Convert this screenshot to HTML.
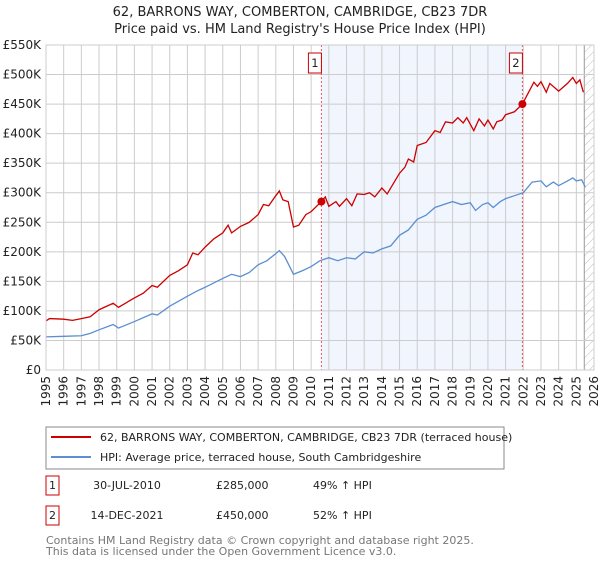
<!DOCTYPE html>
<html><head><meta charset="utf-8"><style>
body{margin:0;background:#fff;font-family:"DejaVu Sans","Liberation Sans",sans-serif;}
svg text{font-family:"DejaVu Sans","Liberation Sans",sans-serif;}
</style></head><body>
<svg id="c" width="600" height="560" xmlns="http://www.w3.org/2000/svg">
<defs><pattern id="hatch" width="6" height="6" patternUnits="userSpaceOnUse" patternTransform="rotate(45)"><line x1="0" y1="0" x2="0" y2="6" stroke="#bbb" stroke-width="1"/></pattern></defs>
<text x="300" y="16" text-anchor="middle" font-size="13" fill="#222">62, BARRONS WAY, COMBERTON, CAMBRIDGE, CB23 7DR</text>
<text x="300" y="33" text-anchor="middle" font-size="13" fill="#222">Price paid vs. HM Land Registry's House Price Index (HPI)</text>
<g id="plot"></g>
<g>
<rect x="46" y="427" width="458" height="42" fill="#fff" stroke="#888"/>
<line x1="51" y1="437" x2="91" y2="437" stroke="#cc0000" stroke-width="2"/>
<text x="100" y="441" font-size="11" fill="#222">62, BARRONS WAY, COMBERTON, CAMBRIDGE, CB23 7DR (terraced house)</text>
<line x1="51" y1="457" x2="91" y2="457" stroke="#5b8fd1" stroke-width="2"/>
<text x="100" y="461" font-size="11" fill="#222">HPI: Average price, terraced house, South Cambridgeshire</text>
</g>
<g font-size="11" fill="#222">
<rect x="46" y="476" width="13" height="19" fill="#fff" stroke="#cc0000"/>
<text x="52.5" y="489" text-anchor="middle" fill="#222">1</text>
<text x="127" y="489" text-anchor="middle" fill="#222">30-JUL-2010</text>
<text x="216" y="489" fill="#222">£285,000</text>
<text x="313" y="489" fill="#222">49% ↑ HPI</text>
<rect x="46" y="506" width="13" height="19" fill="#fff" stroke="#cc0000"/>
<text x="52.5" y="519" text-anchor="middle" fill="#222">2</text>
<text x="127" y="519" text-anchor="middle" fill="#222">14-DEC-2021</text>
<text x="216" y="519" fill="#222">£450,000</text>
<text x="313" y="519" fill="#222">52% ↑ HPI</text>
</g>
<text x="46" y="544" font-size="11" fill="#777">Contains HM Land Registry data © Crown copyright and database right 2025.</text>
<text x="46" y="555" font-size="11" fill="#777">This data is licensed under the Open Government Licence v3.0.</text>
</svg>
<script>
const hpiYears=[1995,1996,1997,1997.5,1998,1998.8,1999.1,2000,2001,2001.3,2002,2003,2003.5,2004,2005,2005.5,2006,2006.5,2007,2007.5,2008,2008.2,2008.5,2009,2009.5,2010,2010.5,2011,2011.5,2012,2012.5,2013,2013.5,2014,2014.5,2015,2015.5,2016,2016.5,2017,2017.5,2018,2018.5,2019,2019.3,2019.7,2020,2020.3,2020.7,2021,2021.5,2022,2022.5,2023,2023.3,2023.7,2024,2024.5,2024.8,2025,2025.3,2025.5];
const hpiValues=[56,57,58,62,68,77,71,82,95,93,108,125,133,140,155,162,158,165,178,185,197,202,192,162,168,175,185,190,185,190,188,200,198,205,210,228,237,255,262,275,280,285,280,283,270,280,283,275,285,290,295,300,318,320,310,318,312,320,325,320,322,310];
const propYears=[1995,1995.2,1996,1996.5,1997,1997.5,1998,1998.8,1999.1,2000,2000.5,2001,2001.3,2002,2002.5,2003,2003.3,2003.6,2004,2004.5,2005,2005.3,2005.5,2006,2006.5,2007,2007.3,2007.6,2008,2008.2,2008.4,2008.7,2009,2009.3,2009.7,2010,2010.58,2010.8,2011,2011.4,2011.6,2012,2012.3,2012.6,2013,2013.3,2013.6,2014,2014.3,2014.7,2015,2015.3,2015.5,2015.8,2016,2016.5,2017,2017.3,2017.6,2018,2018.3,2018.6,2018.8,2019,2019.2,2019.5,2019.8,2020,2020.3,2020.5,2020.8,2021,2021.5,2021.95,2022.3,2022.6,2022.8,2023,2023.3,2023.5,2024,2024.5,2024.8,2025,2025.2,2025.4];
const propValues=[83,87,86,84,87,90,102,113,106,122,130,143,140,160,168,178,198,195,208,222,232,245,232,243,250,263,280,278,295,303,288,285,242,245,263,268,285,293,277,285,277,290,278,298,297,300,293,308,298,318,333,343,357,352,380,385,405,402,420,418,427,418,427,416,405,425,413,423,408,420,423,432,437,450,470,487,480,488,470,485,472,485,495,485,491,470];
const saleYears=[2010.58,2021.95];
const saleValues=[285,450];
const saleLabels=["1","2"];
const yTicks=[0,50,100,150,200,250,300,350,400,450,500,550];
const xTicks=[1995,1996,1997,1998,1999,2000,2001,2002,2003,2004,2005,2006,2007,2008,2009,2010,2011,2012,2013,2014,2015,2016,2017,2018,2019,2020,2021,2022,2023,2024,2025,2026];
const NS="http://www.w3.org/2000/svg";
const L=46,R=594,T=45,B=370;
const xs=y=>L+(y-1995)/(2026-1995)*(R-L);
const ys=v=>B-v/550*(B-T);
const g=document.getElementById('plot');
function mk(t,a){const e=document.createElementNS(NS,t);for(const k in a)e.setAttribute(k,a[k]);g.appendChild(e);return e;}
const band=mk('rect',{x:xs(saleYears[0]),y:T,width:xs(saleYears[1])-xs(saleYears[0]),height:B-T,fill:'#eef3fd',opacity:0.8});


const hat=mk('rect',{x:xs(2025.45),y:T,width:R-xs(2025.45),height:B-T,fill:'url(#hatch)'});


mk('line',{x1:xs(2025.45),y1:T,x2:xs(2025.45),y2:B,stroke:'#999','stroke-width':1});
xTicks.forEach(t=>{const ln=mk('line',{x1:xs(t),y1:T,x2:xs(t),y2:B,stroke:'#ccc','stroke-width':1});


const tx=mk('text',{x:0,y:0,'font-size':12,fill:'#222','text-anchor':'end',transform:`translate(${xs(t)+4},${B+6}) rotate(-90)`});
tx.textContent=t;

});
yTicks.forEach(t=>{const ln=mk('line',{x1:L,y1:ys(t),x2:R,y2:ys(t),stroke:'#ccc','stroke-width':1});


const tx=mk('text',{x:L-5,y:ys(t)+4,'font-size':12,fill:'#222','text-anchor':'end'});
tx.textContent=t===0?'£0':'£'+t+'K';

});
saleYears.forEach((y,i)=>{const ln=mk('line',{x1:xs(y),y1:T,x2:xs(y),y2:B,stroke:'#e55','stroke-width':1,'stroke-dasharray':'2,2'});


const bx=mk('rect',{x:xs(y)-13,y:53,width:13,height:20,fill:'#fff',stroke:'#cc0000'});


const tx=mk('text',{x:xs(y)-6.5,y:67,'font-size':11.5,fill:'#222','text-anchor':'middle'});
tx.textContent=saleLabels[i];

});
const hp=mk('polyline',{points:hpiYears.map((y,i)=>xs(y)+','+ys(hpiValues[i])).join(' '),fill:'none',stroke:'#5b8fd1','stroke-width':1.3});


const pp=mk('polyline',{points:propYears.map((y,i)=>xs(y)+','+ys(propValues[i])).join(' '),fill:'none',stroke:'#cc0000','stroke-width':1.3});


saleYears.forEach((y,i)=>{const c=mk('circle',{cx:xs(y),cy:ys(saleValues[i]),r:4,fill:'#cc0000'});

});
const ax=mk('rect',{x:L,y:T,width:R-L,height:B-T,fill:'none',stroke:'#ccc'});


</script>
</body></html>
